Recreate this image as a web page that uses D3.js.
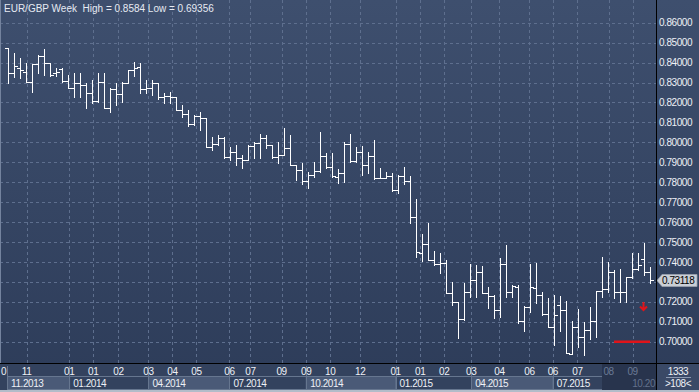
<!DOCTYPE html>
<html>
<head>
<meta charset="utf-8">
<script src="https://cdn.jsdelivr.net/npm/d3@7/dist/d3.min.js"></script>
<style>
html, body { margin: 0; padding: 0; background: #34445f; overflow: hidden; }
svg { display: block; font-family: "Liberation Sans", Arial, sans-serif; }
</style>
</head>
<body>
<div id="chart"></div>
<script>
// EUR/GBP weekly bars, oldest first
var opens = [.8473,.8348,.8373,.8353,.8303,.8393,.8433,.8398,.8348,.8368,
    .8308,.8273,.8298,.8288,.8248,.8208,.8303,.8172,.8268,.8243,
    .8298,.8363,.8378,.8268,.8273,.8298,.8228,.8233,.8228,.8162,
    .8142,.8092,.8132,.8122,.7977,.7992,.8022,.7927,.7952,.7922,
    .7912,.7982,.7997,.8022,.7987,.7927,.7937,.7972,.7887,.7861,
    .7806,.7836,.7856,.7932,.7877,.7826,.7846,.7992,.7908,.7953,
    .7887,.7932,.7820,.7821,.7831,.7761,.7831,.7806,.7627,.7445,
    .7490,.7410,.7389,.7397,.7246,.7201,.7113,.7251,.7310,.7351,
    .7243,.7230,.7159,.7390,.7251,.7276,.7106,.7174,.7270,.7235,
    .7139,.7073,.7184,.7159,.6939,.7076,.7026,.7059,.7106,.7256,
    .7263,.7351,.7251,.7251,.7323,.7363,.7414,.7348];
var highs = [.8473,.8448,.8423,.8398,.8393,.8438,.8468,.8398,.8373,.8373,
    .8338,.8348,.8348,.8298,.8313,.8348,.8348,.8273,.8298,.8303,
    .8363,.8403,.8398,.8313,.8313,.8298,.8248,.8253,.8228,.8187,
    .8162,.8137,.8152,.8122,.8027,.8037,.8027,.7977,.7987,.7937,
    .7987,.8002,.8042,.8037,.7987,.8002,.8072,.8037,.7887,.7897,
    .7851,.7902,.8052,.7947,.7947,.7867,.8000,.8042,.7978,.7982,
    .7953,.8012,.7870,.7853,.7845,.7836,.7875,.7831,.7715,.7541,
    .7594,.7457,.7444,.7410,.7301,.7201,.7293,.7390,.7385,.7380,
    .7276,.7235,.7419,.7485,.7285,.7285,.7179,.7390,.7394,.7251,
    .7218,.7235,.7230,.7206,.7106,.7163,.7101,.7173,.7256,.7424,
    .7402,.7360,.7363,.7325,.7444,.7444,.7494,.7377];
var lows = [.8298,.8328,.8323,.8303,.8253,.8348,.8338,.8333,.8333,.8303,
    .8273,.8228,.8228,.8172,.8197,.8203,.8172,.8152,.8187,.8203,
    .8298,.8333,.8248,.8248,.8238,.8218,.8197,.8197,.8162,.8127,
    .8082,.8087,.8062,.7977,.7962,.7987,.7922,.7912,.7887,.7872,
    .7912,.7922,.7922,.7972,.7922,.7897,.7937,.7887,.7811,.7791,
    .7771,.7826,.7851,.7872,.7826,.7796,.7803,.7903,.7900,.7836,
    .7845,.7815,.7820,.7820,.7758,.7745,.7791,.7597,.7427,.7407,
    .7410,.7385,.7343,.7243,.7184,.7017,.7109,.7226,.7223,.7243,
    .7168,.7118,.7123,.7226,.7223,.7093,.7056,.7151,.7196,.7134,
    .7073,.6984,.7056,.6942,.6939,.6975,.6934,.7012,.7022,.7226,
    .7251,.7218,.7201,.7201,.7320,.7360,.7335,.7293];
var closes = [.8348,.8383,.8363,.8303,.8393,.8433,.8398,.8338,.8353,.8308,
    .8273,.8298,.8288,.8248,.8208,.8303,.8172,.8268,.8243,.8298,
    .8363,.8373,.8268,.8273,.8298,.8228,.8233,.8228,.8162,.8142,
    .8092,.8132,.8122,.7977,.7992,.8022,.7927,.7952,.7922,.7912,
    .7982,.7997,.8022,.7987,.7927,.7937,.7972,.7887,.7861,.7806,
    .7836,.7856,.7932,.7877,.7831,.7846,.7992,.7908,.7953,.7887,
    .7932,.7820,.7820,.7831,.7761,.7831,.7806,.7627,.7450,.7490,
    .7410,.7389,.7397,.7246,.7201,.7113,.7251,.7310,.7351,.7243,
    .7230,.7159,.7390,.7251,.7280,.7106,.7173,.7276,.7235,.7138,
    .7073,.7134,.7159,.6942,.7076,.7026,.7059,.7106,.7256,.7263,
    .7351,.7251,.7251,.7323,.7363,.7385,.7348,.73118];

var priceTicks = [0.70, 0.71, 0.72, 0.73, 0.74, 0.75, 0.76, 0.77, 0.78,
    0.79, 0.80, 0.81, 0.82, 0.83, 0.84, 0.85, 0.86];

// time scale labels (bar index where the label sits); the first one is cut by the left edge
var timeTickIdx = [-0.9, 3.1, 10.2, 14.2, 18.4, 23.4, 27.4, 31.4, 36.9, 40.4, 45.6,
    49.7, 53.7, 58.7, 64.6, 68.7, 72.7, 77.2, 81.9, 86.9, 90.8, 94.9, 100.1, 104.1];
var timeTickLbl = ["0", "11", "01", "01", "02", "03", "04", "05", "06", "07", "09",
    "09", "10", "12", "01", "01", "02", "03", "04", "06", "06", "07", "08", "09"];
var periodIdx = [-0.15, 10.2, 23.4, 36.9, 49.7, 64.6, 77.2, 90.8];
var periodLbl = ["11.2013", "01.2014", "04.2014", "07.2014", "10.2014", "01.2015", "04.2015", "07.2015"];
var hiddenFromIdx = 99;    // part of the time scale under the dark shade
var hiddenLbl = "10.20";

var titleText = "EUR/GBP Week  High = 0.8584 Low = 0.69356";
var lastPrice = 0.73118;
var arrowBar = 105.8, arrowPrice = 0.7200;
var levelLine = { price: 0.70, from: 101, to: 107 };
var scaleInfo = ["1333", ">108<"];

var width = 699, height = 392;
var plotRight = 656, plotBottom = 363;
var fs = 10, ls = -0.45;

var svg = d3.select("#chart").append("svg")
    .attr("width", width)
    .attr("height", height);

var defs = svg.append("defs");
var grad = defs.append("linearGradient").attr("id", "bg")
    .attr("x1", 0).attr("y1", 0).attr("x2", 0).attr("y2", 1);
grad.append("stop").attr("offset", "0%").attr("stop-color", "#3e4f6e");
grad.append("stop").attr("offset", "100%").attr("stop-color", "#2d3c59");
defs.append("clipPath").attr("id", "plotclip")
    .append("rect").attr("x", 0).attr("y", 0).attr("width", plotRight).attr("height", plotBottom);
defs.append("clipPath").attr("id", "axclip")
    .append("rect").attr("x", 0).attr("y", plotBottom).attr("width", plotRight).attr("height", height - plotBottom);

svg.append("rect").attr("width", width).attr("height", height).attr("fill", "url(#bg)");

var x = d3.scaleLinear().domain([0, opens.length - 1]).range([8, 650]);
var y = d3.scaleLinear().domain([0.70, 0.86]).range([341.8, 22.7]);

var px = v => Math.round(v) + 0.5;

// grid
var grid = svg.append("g").attr("clip-path", "url(#plotclip)")
    .attr("stroke", "#5e6f8e").attr("stroke-dasharray", "3,3").attr("stroke-width", 1);
grid.selectAll(".hg").data(priceTicks).enter().append("line")
    .attr("x1", 0).attr("x2", plotRight)
    .attr("y1", d => px(y(d))).attr("y2", d => px(y(d)));
grid.selectAll(".vg").data(timeTickIdx.slice(1)).enter().append("line")
    .attr("y1", 0).attr("y2", plotBottom)
    .attr("x1", d => px(x(d))).attr("x2", d => px(x(d)));

// bars
var bars = svg.append("g").attr("clip-path", "url(#plotclip)")
    .attr("stroke", "#ffffff").attr("stroke-width", 1).attr("shape-rendering", "crispEdges");
var idx = d3.range(opens.length);
bars.selectAll(".hl").data(idx).enter().append("line")
    .attr("x1", i => px(x(i))).attr("x2", i => px(x(i)))
    .attr("y1", i => Math.round(y(highs[i]))).attr("y2", i => Math.round(y(lows[i])) + 1);
bars.selectAll(".op").data(idx).enter().append("line")
    .attr("x1", i => Math.round(x(i)) - 3).attr("x2", i => Math.round(x(i)))
    .attr("y1", i => px(y(opens[i]))).attr("y2", i => px(y(opens[i])));
bars.selectAll(".cl").data(idx).enter().append("line")
    .attr("x1", i => Math.round(x(i)) + 1).attr("x2", i => Math.round(x(i)) + 4)
    .attr("y1", i => px(y(closes[i]))).attr("y2", i => px(y(closes[i])));

// red marks
svg.append("line")
    .attr("x1", x(levelLine.from)).attr("x2", x(levelLine.to))
    .attr("y1", y(levelLine.price)).attr("y2", y(levelLine.price))
    .attr("stroke", "#e0141a").attr("stroke-width", 2.5);
var ax = Math.round(x(arrowBar)) + 0.5, ay = Math.round(y(arrowPrice));
svg.append("path")
    .attr("d", `M${ax},${ay} V${ay + 8} M${ax - 3.5},${ay + 4.5} L${ax},${ay + 8} L${ax + 3.5},${ay + 4.5}`)
    .attr("fill", "none").attr("stroke", "#e0141a").attr("stroke-width", 2);

// title
svg.append("text").attr("x", 4).attr("y", 12)
    .style("white-space", "pre")
    .attr("fill", "#e6eaf2").attr("font-size", 10).text(titleText);

// price scale (the level under the last-price tag is hidden, as in the terminal)
var ly = Math.round(y(lastPrice));
svg.append("g").selectAll("text").data(priceTicks.filter(d => Math.abs(y(d) - ly) > 9)).enter().append("text")
    .attr("x", 659).attr("y", d => y(d) + 3.5)
    .attr("fill", "#eef1f6").attr("font-size", fs).attr("letter-spacing", ls)
    .text(d => d3.format(".5f")(d));

// last price tag
svg.append("path")
    .attr("d", `M657,${ly + 0.5} L662,${ly - 5.5} H697 V${ly + 6.5} H662 Z`)
    .attr("fill", "#c9ced6").attr("stroke", "#9aa2ae").attr("stroke-width", 0.8);
svg.append("text").attr("x", 662).attr("y", ly + 4)
    .attr("fill", "#000").attr("font-size", fs).attr("letter-spacing", ls)
    .text(d3.format(".5f")(lastPrice));

// time scale strip
var strip = svg.append("g").attr("clip-path", "url(#axclip)");
strip.append("rect").attr("x", 0).attr("y", plotBottom).attr("width", plotRight).attr("height", height - plotBottom)
    .attr("fill", "#33425e");
strip.selectAll(".pb").data(periodIdx).enter().append("rect")
    .attr("x", d => px(x(d)))
    .attr("y", 376.5)
    .attr("width", (d, i) => x(i + 1 < periodIdx.length ? periodIdx[i + 1] : hiddenFromIdx) - x(d))
    .attr("height", 13)
    .attr("fill", (d, i) => i % 2 == 0 ? "#4a5a77" : "none")
    .attr("stroke", "#66768f").attr("stroke-width", 1);
strip.selectAll(".sep").data(periodIdx).enter().append("line")
    .attr("x1", d => px(x(d))).attr("x2", d => px(x(d)))
    .attr("y1", 366).attr("y2", 390)
    .attr("stroke", "#66768f");
strip.selectAll(".pl").data(periodLbl).enter().append("text")
    .attr("x", (d, i) => x(periodIdx[i]) + 4).attr("y", 387)
    .attr("fill", "#eef1f6").attr("font-size", fs).attr("letter-spacing", ls).text(d => d);

// dark shade over the right end of the time scale
strip.append("rect").attr("x", x(hiddenFromIdx)).attr("y", plotBottom + 1)
    .attr("width", plotRight - x(hiddenFromIdx)).attr("height", 26)
    .attr("fill", "#28344d");
strip.append("text").attr("x", plotRight - 1).attr("y", 387).attr("text-anchor", "end")
    .attr("fill", "#62718c").attr("font-size", fs).attr("letter-spacing", ls).text(hiddenLbl);

strip.selectAll(".tl").data(timeTickLbl).enter().append("text")
    .attr("x", (d, i) => i == 0 ? 1 : x(timeTickIdx[i]))
    .attr("y", 375)
    .attr("text-anchor", (d, i) => i == 0 ? "start" : "middle")
    .attr("fill", (d, i) => timeTickIdx[i] >= hiddenFromIdx ? "#6a7a96" : "#eef1f6")
    .attr("font-size", fs).attr("letter-spacing", ls).text(d => d);

// right-bottom corner box
svg.append("rect").attr("x", 657).attr("y", plotBottom + 1).attr("width", 42).attr("height", 26)
    .attr("fill", "#3a4966");
svg.append("line").attr("x1", 666).attr("x2", 691).attr("y1", 377.5).attr("y2", 377.5)
    .attr("stroke", "#8c99b0");
svg.selectAll(".si").data(scaleInfo).enter().append("text")
    .attr("x", 678).attr("y", (d, i) => 375 + i * 12)
    .attr("text-anchor", "middle").attr("fill", "#eef1f6")
    .attr("font-size", fs).attr("letter-spacing", ls).text(d => d);

// frame lines
svg.append("line").attr("x1", 0).attr("x2", width).attr("y1", plotBottom + 0.5).attr("y2", plotBottom + 0.5)
    .attr("stroke", "#000");
svg.append("line").attr("x1", plotRight + 0.5).attr("x2", plotRight + 0.5).attr("y1", 0).attr("y2", height)
    .attr("stroke", "#000");
svg.append("line").attr("x1", 0.5).attr("x2", 0.5).attr("y1", 0).attr("y2", plotBottom)
    .attr("stroke", "#74839e").attr("stroke-width", 1);
svg.append("rect").attr("x", 0).attr("y", 390).attr("width", width).attr("height", 2)
    .attr("fill", "#b3bcc9");
</script>
</body>
</html>
